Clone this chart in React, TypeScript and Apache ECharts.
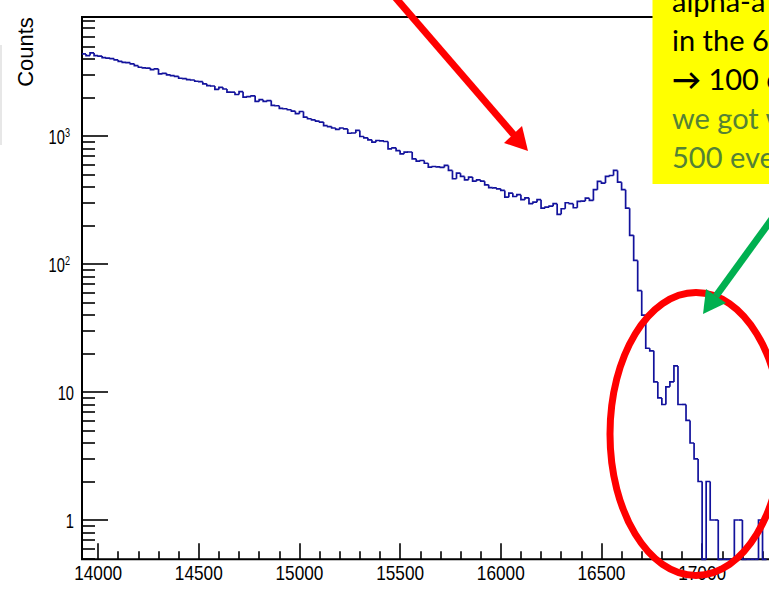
import React, { useEffect, useRef } from "react";
import * as echarts from "echarts";

// Histogram binning (energy, 20 units per bin starting at 13920)
const BIN_START = 13920;
const BIN_WIDTH = 20;

// Counts per bin
const counts: number[] = [
  4400, 4270, 4480, 4270, 4230, 4120, 4080, 4040, 3950, 3850,
  3780, 3760, 3680, 3560, 3460, 3420, 3410, 3320, 3360, 3070,
  3100, 3020, 2980, 2940, 2840, 2820, 2770, 2750, 2690, 2670,
  2570, 2490, 2470, 2320, 2410, 2340, 2210, 2210, 2120, 2230,
  2020, 2040, 2070, 1870, 1930, 1870, 1900, 1740, 1730, 1650,
  1640, 1610, 1570, 1500, 1560, 1410, 1370, 1340, 1310, 1290,
  1210, 1190, 1160, 1130, 1160, 1140, 1055, 1060, 1110, 995,
  972, 937, 898, 926, 921, 909, 797, 812, 773, 729,
  750, 753, 666, 638, 646, 615, 573, 580, 577, 570,
  591, 540, 465, 514, 485, 456, 479, 445, 455, 445,
  417, 396, 394, 388, 377, 334, 359, 338, 349, 319,
  330, 297, 305, 319, 274, 279, 284, 297, 245, 271,
  302, 297, 276, 309, 311, 328, 315, 382, 443, 430,
  485, 493, 540, 437, 382, 274, 168, 107, 62, 40,
  22, 21, 12, 9, 8, 11, 12, 16, 8, 8,
  6, 4, 3, 2, 0, 2, 1, 1, 0, 0,
  0, 0, 1, 1, 0, 0, 0, 0, 1, 0,
];

// Axis ranges
const X_MIN = 13920;
const X_MAX = 17500;
const Y_MIN = 0.493;
const Y_MAX = 8550;

// Tick positions and labels
const xMajorTicks = [14000, 14500, 15000, 15500, 16000, 16500, 17000];
const xTickLabels = ["14000", "14500", "15000", "15500", "16000", "16500", "17000"];
const xMinorTicks = [
  14100, 14200, 14300, 14400, 14600, 14700, 14800, 14900,
  15100, 15200, 15300, 15400, 15600, 15700, 15800, 15900,
  16100, 16200, 16300, 16400, 16600, 16700, 16800, 16900,
  17100, 17200, 17300, 17400,
];
const yMajorTicks = [1, 10, 100, 1000];
const yTickLabels = ["{b|1}", "{b|10}", "{b|10}{s|2}", "{b|10}{s|3}"];
const yMinorTicks = [
  0.5, 0.6, 0.7, 0.8, 0.9,
  2, 3, 4, 5, 6, 7, 8, 9,
  20, 30, 40, 50, 60, 70, 80, 90,
  200, 300, 400, 500, 600, 700, 800, 900,
  2000, 3000, 4000, 5000, 6000, 7000, 8000,
];

// Note box lines
const noteBlack = ["alpha-a", "in the 6", "{arr|\u2192} 100 e"];
const noteGreen = ["we got w", "500 eve"];

const HIST_COLOR = "#12129c";
const LABEL_FONT = "'Liberation Sans', Arial, sans-serif";
const NOTE_FONT = "Lato, 'Open Sans', sans-serif";

export default function App() {
  const ref = useRef<HTMLDivElement>(null);

  useEffect(() => {
    if (!ref.current) return;
    const chart = echarts.init(ref.current, null, { renderer: "svg" });

    const data = counts.map((c, i) => [
      BIN_START + i * BIN_WIDTH,
      BIN_START + (i + 1) * BIN_WIDTH,
      c,
      i > 0 ? counts[i - 1] : c,
    ]);

    const floorVal = (v: number) => (v > 0 ? v : Y_MIN);

    const renderItem = (_params: any, api: any) => {
      const x0 = api.value(0);
      const x1 = api.value(1);
      const cur = api.value(2);
      const prev = api.value(3);
      const a = api.coord([x0, floorVal(prev)]);
      const b = api.coord([x0, floorVal(cur)]);
      const c = api.coord([x1, floorVal(cur)]);
      return {
        type: "polyline",
        shape: { points: [a, b, c] },
        style: { stroke: HIST_COLOR, lineWidth: 1.7, fill: null },
      };
    };

    const tickLine = { color: "#000", width: 1.6 };

    const option: any = {
      animation: false,
      backgroundColor: "#fff",
      grid: {
        left: 82,
        top: 17,
        width: 720.8,
        height: 542.3,
        show: true,
        borderColor: "#000",
        borderWidth: 2,
        backgroundColor: "transparent",
        containLabel: false,
        outerBoundsMode: "none",
      },
      xAxis: [
        {
          type: "value",
          min: X_MIN,
          max: X_MAX,
          position: "bottom",
          axisLine: { show: false },
          splitLine: { show: false },
          axisTick: {
            show: true,
            inside: true,
            length: 16,
            customValues: xMajorTicks,
            lineStyle: tickLine,
          },
          axisLabel: { show: false },
        },
        {
          type: "value",
          min: X_MIN,
          max: X_MAX,
          position: "bottom",
          axisLine: { show: false },
          splitLine: { show: false },
          axisTick: {
            show: true,
            inside: true,
            length: 8,
            customValues: xMinorTicks,
            lineStyle: tickLine,
          },
          axisLabel: { show: false },
        },
      ],
      yAxis: [
        {
          type: "log",
          logBase: 10,
          min: Y_MIN,
          max: Y_MAX,
          position: "left",
          axisLine: { show: false },
          splitLine: { show: false },
          minorTick: { show: false },
          axisTick: {
            show: true,
            inside: true,
            length: 26,
            customValues: yMajorTicks,
            lineStyle: tickLine,
          },
          axisLabel: { show: false },
        },
        {
          type: "log",
          logBase: 10,
          min: Y_MIN,
          max: Y_MAX,
          position: "left",
          axisLine: { show: false },
          splitLine: { show: false },
          minorTick: { show: false },
          axisTick: {
            show: true,
            inside: true,
            length: 13,
            customValues: yMinorTicks,
            lineStyle: tickLine,
          },
          axisLabel: { show: false },
        },
      ],
      series: [
        {
          type: "custom",
          name: "Counts",
          xAxisIndex: 0,
          yAxisIndex: 0,
          dimensions: ["lo", "hi", "count", "prev"],
          encode: { x: [0, 1], y: 2 },
          renderItem,
          data,
          silent: true,
          z: 5,
        },
      ],
    };

    chart.setOption(option);

    // Narrow tick labels placed at the axis' own pixel positions
    const xLabelEls = xMajorTicks.map((v, i) => ({
      type: "text",
      z: 50,
      x: chart.convertToPixel({ xAxisIndex: 0 }, v) as number,
      y: 573,
      scaleX: 0.82,
      style: {
        text: xTickLabels[i],
        fill: "#000",
        fontSize: 21,
        fontFamily: LABEL_FONT,
        align: "center",
        verticalAlign: "middle",
      },
    }));

    const yLabelEls = yMajorTicks.map((v, i) => {
      const power = v >= 100;
      return {
        type: "text",
        z: 50,
        x: power ? 70 : 74,
        y: (chart.convertToPixel({ yAxisIndex: 0 }, v) as number) + (power ? 1 : 1),
        scaleX: 0.7,
        style: {
          text: yTickLabels[i],
          fill: "#000",
          align: "right",
          verticalAlign: "middle",
          rich: {
            b: { fontSize: 21, lineHeight: 22, fontFamily: LABEL_FONT, fill: "#000" },
            s: {
              fontSize: 13,
              lineHeight: 9,
              fontFamily: LABEL_FONT,
              fill: "#000",
              verticalAlign: "top",
            },
          },
        },
      };
    });

    const noteRich = {
      arr: {
        fontFamily: NOTE_FONT,
        fontWeight: "bold",
        fontSize: 29,
        fill: "#000",
      },
    };

    const noteElements: any[] = [];
    noteBlack.forEach((t, i) => {
      noteElements.push({
        type: "text",
        z: 110,
        style: {
          x: 672,
          y: 0 + i * 39,
          text: t,
          fill: "#000",
          fontSize: 29,
          fontFamily: NOTE_FONT,
          verticalAlign: "middle",
          rich: noteRich,
        },
      });
    });
    noteGreen.forEach((t, i) => {
      noteElements.push({
        type: "text",
        z: 110,
        style: {
          x: 672,
          y: 117 + i * 39,
          text: t,
          fill: "#548235",
          fontSize: 29,
          fontFamily: NOTE_FONT,
          verticalAlign: "middle",
        },
      });
    });

    chart.setOption({
      graphic: {
        elements: [
          ...xLabelEls,
          ...yLabelEls,
          {
            type: "line",
            z: 100,
            shape: { x1: 1, y1: 45, x2: 1, y2: 145 },
            style: { stroke: "#cfcfcf", lineWidth: 1 },
          },
          {
            type: "text",
            z: 100,
            rotation: Math.PI / 2,
            x: 25,
            y: 52,
            style: {
              text: "Counts",
              fill: "#000",
              fontSize: 22,
              fontFamily: LABEL_FONT,
              align: "center",
              verticalAlign: "middle",
            },
          },
          // annotation arrow pointing at the continuum
          {
            type: "line",
            z: 100,
            shape: { x1: 394, y1: -4, x2: 514, y2: 135 },
            style: { stroke: "#ff0000", lineWidth: 7 },
          },
          {
            type: "polygon",
            z: 100,
            shape: { points: [[528, 151], [504, 143], [522, 126]] },
            style: { fill: "#ff0000" },
          },
          // highlighted tail region
          {
            type: "ellipse",
            z: 100,
            shape: { cx: 696, cy: 434, rx: 86, ry: 141.5 },
            style: { stroke: "#ff0000", lineWidth: 7, fill: null },
          },
          // note box
          {
            type: "rect",
            z: 105,
            shape: { x: 652.5, y: -5, width: 140, height: 189 },
            style: { fill: "#ffff00" },
          },
          ...noteElements,
          // arrow from the note to the tail
          {
            type: "line",
            z: 100,
            shape: { x1: 716, x2: 790, y1: 296, y2: 194 },
            style: { stroke: "#00b050", lineWidth: 7 },
          },
          {
            type: "polygon",
            z: 100,
            shape: { points: [[703, 314], [706, 289], [726, 303]] },
            style: { fill: "#00b050" },
          },
        ],
      },
    });

    return () => chart.dispose();
  }, []);

  return (
    <div
      ref={ref}
      style={{
        position: "absolute",
        left: 0,
        top: 0,
        width: 769,
        height: 606,
        overflow: "hidden",
        background: "#fff",
      }}
    />
  );
}
